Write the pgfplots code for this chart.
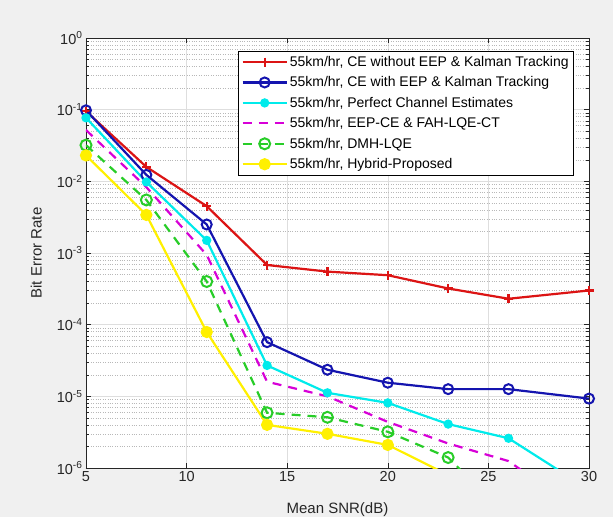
\documentclass[border=0pt]{standalone}
\usepackage{pgfplots}
\pgfplotsset{compat=1.18}
\usepackage{fontspec}
\setmainfont{Liberation Sans}
\definecolor{figbg}{RGB}{240,240,240}
\definecolor{cred}{RGB}{220,20,20}
\definecolor{cblue}{RGB}{20,20,175}
\definecolor{ccyan}{RGB}{0,235,235}
\definecolor{cmag}{RGB}{215,0,215}
\definecolor{cgreen}{RGB}{40,205,40}
\definecolor{cyel}{RGB}{255,240,0}
\begin{document}
\begin{tikzpicture}
\fill[figbg] (-86pt,-49pt) rectangle (527pt,468pt);
\begin{axis}[at={(0pt,0pt)}, anchor=south west, scale only axis,
  width=503pt, height=430pt,
  ymode=log, xmin=5, xmax=30, ymin=1e-6, ymax=1,
  xtick={5,10,15,20,25,30},
  ytick={1e-6,1e-5,1e-4,1e-3,1e-2,1e-1,1},
  yticklabels={10\textsuperscript{-6},10\textsuperscript{-5},10\textsuperscript{-4},10\textsuperscript{-3},10\textsuperscript{-2},10\textsuperscript{-1},10\textsuperscript{0}},
  /pgf/number format/assume math mode=true,
  axis background/.style={fill=white},
  grid=both,
  major grid style={black!13, line width=0.6pt},
  minor grid style={black!28, dotted, line width=0.5pt},
  tick align=inside,
  major tick length=5pt, minor tick length=3pt,
  axis line style={black!85, line width=0.6pt},
  tick style={black!85, line width=0.5pt},
  tick label style={text=black!85},
  font=\fontsize{14.5}{16}\selectfont,
  xlabel={Mean SNR(dB)}, ylabel={Bit Error Rate},
  label style={text=black!85, font=\fontsize{15}{17}\selectfont},
  xlabel style={at={(axis description cs:0.5,-0.097)}, anchor=center},
  ylabel style={at={(axis description cs:-0.099,0.5)}, anchor=center, rotate=0},
  legend style={at={(0.970,0.970)}, anchor=north east, draw=black, line width=0.6pt,
    fill=white, font=\fontsize{14}{16}\selectfont, row sep=4.8pt, inner sep=3pt},
  legend cell align=left,
  legend image code/.code={\draw[mark repeat=2,mark phase=2] plot coordinates {(0pt,0pt) (22pt,0pt) (44pt,0pt)};},
]
\addplot[cred, line width=2.2pt, mark=+, mark size=4.5pt] coordinates {
(5,0.095)(8,0.0159)(11,0.0045)(14,6.8e-4)(17,5.5e-4)(20,4.9e-4)(23,3.2e-4)(26,2.3e-4)(30,3.0e-4)};
\addlegendentry{55km/hr, CE without EEP \& Kalman Tracking}
\addplot[cblue, line width=2.2pt, mark=o, mark size=5pt, mark options={line width=2pt}] coordinates {
(5,0.098)(8,0.0123)(11,0.0025)(14,5.7e-5)(17,2.35e-5)(20,1.55e-5)(23,1.26e-5)(26,1.26e-5)(30,9.3e-6)};
\addlegendentry{55km/hr, CE with EEP \& Kalman Tracking}
\addplot[ccyan, line width=2.2pt, mark=*, mark size=3.5pt] coordinates {
(5,0.077)(8,0.0098)(11,0.0015)(14,2.7e-5)(17,1.12e-5)(20,8.1e-6)(23,4.1e-6)(26,2.6e-6)(30,5e-7)};
\addlegendentry{55km/hr, Perfect Channel Estimates}
\addplot[cmag, line width=2.2pt, dash pattern=on 9pt off 7pt] coordinates {
(5,0.052)(8,0.0083)(11,9.4e-4)(14,1.6e-5)(17,1.0e-5)(20,4.4e-6)(23,2.2e-6)(26,1.25e-6)(30,2e-7)};
\addlegendentry{55km/hr, EEP-CE \& FAH-LQE-CT}
\addplot[cgreen, line width=2.2pt, dash pattern=on 9pt off 7pt, mark=o, mark size=5.5pt, mark options={solid, line width=2pt}] coordinates {
(5,0.032)(8,0.0055)(11,4e-4)(14,5.9e-6)(17,5.1e-6)(20,3.2e-6)(23,1.4e-6)(26,2e-7)(30,3e-8)};
\addlegendentry{55km/hr, DMH-LQE}
\addplot[cyel, line width=2.2pt, mark=*, mark size=5pt] coordinates {
(5,0.023)(8,3.4e-3)(11,7.9e-5)(14,4e-6)(17,3e-6)(20,2.1e-6)(23,8e-7)(26,3e-7)(30,1e-7)};
\addlegendentry{55km/hr, Hybrid-Proposed}
\end{axis}
\end{tikzpicture}
\end{document}
